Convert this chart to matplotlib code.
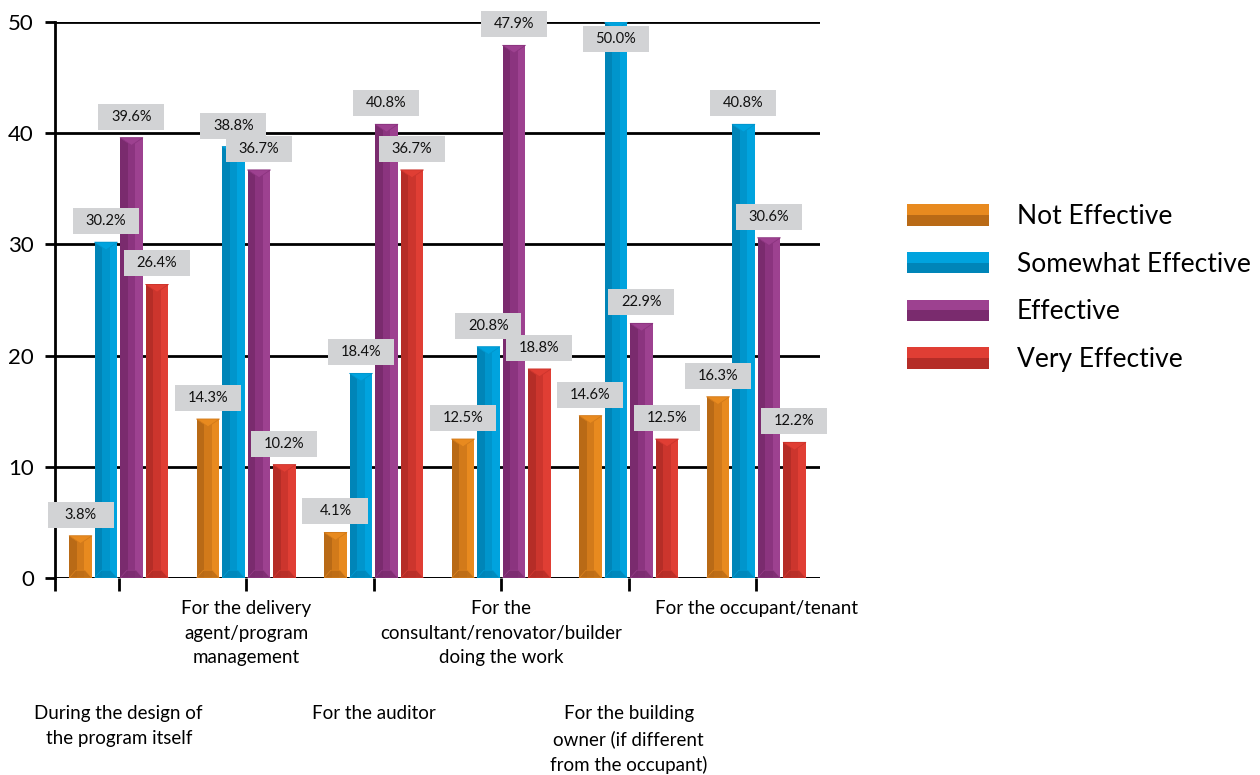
import matplotlib
matplotlib.use("Agg")
import matplotlib.pyplot as plt
import numpy as np
from matplotlib.patches import Polygon, Rectangle
from matplotlib.legend_handler import HandlerBase
from matplotlib import transforms

plt.rcParams["font.family"] = ["Lato", "DejaVu Sans"]

CATEGORIES = [
    "During the design of\nthe program itself",
    "For the delivery\nagent/program\nmanagement",
    "For the auditor",
    "For the\nconsultant/renovator/builder\ndoing the work",
    "For the building\nowner (if different\nfrom the occupant)",
    "For the occupant/tenant",
]
SERIES = ["Not Effective", "Somewhat Effective", "Effective", "Very Effective"]
NOT_EFFECTIVE = [3.8, 14.3, 4.1, 12.5, 14.6, 16.3]
SOMEWHAT_EFFECTIVE = [30.2, 38.8, 18.4, 20.8, 50.0, 40.8]
EFFECTIVE = [39.6, 36.7, 40.8, 47.9, 22.9, 30.6]
VERY_EFFECTIVE = [26.4, 10.2, 36.7, 18.8, 12.5, 12.2]
Y_TICKS = [0, 10, 20, 30, 40, 50]

# (dark, mid, light) shades per series for the bevel look
SHADES = [
    ("#b96a16", "#d27a1a", "#e88a1f"),
    ("#0085b8", "#0095cc", "#00a3de"),
    ("#7a2b6e", "#8b347f", "#9d4190"),
    ("#b52d27", "#cc352d", "#e03e34"),
]

values = [NOT_EFFECTIVE, SOMEWHAT_EFFECTIVE, EFFECTIVE, VERY_EFFECTIVE]
x = np.arange(len(CATEGORIES))
width = 0.18
offsets = [-0.3, -0.1, 0.1, 0.3]

fig = plt.figure(figsize=(12.6, 7.75), dpi=100)
ax = fig.add_axes([55 / 1260, 1 - 578 / 775, 765 / 1260, 556 / 775])
ax.set_xlim(-0.5, 5.5)
ax.set_ylim(0, 50)

for i, vals in enumerate(values):
    dark, mid, light = SHADES[i]
    pos = x + offsets[i]
    left = pos - width / 2
    ax.bar(left, vals, width=width / 3, align="edge", color=dark, zorder=3, linewidth=0)
    ax.bar(left + width / 3, vals, width=width / 3, align="edge", color=mid, zorder=3, linewidth=0)
    ax.bar(left + 2 * width / 3, vals, width=width / 3, align="edge", color=light, zorder=3, linewidth=0)
    d = 0.7
    for xl, v in zip(left, vals):
        top = Polygon([(xl, v), (xl + width, v), (xl + width / 2, v - d)],
                      closed=True, facecolor=light, edgecolor=mid, linewidth=0.6, zorder=4)
        bot = Polygon([(xl, 0), (xl + width, 0), (xl + 0.7 * width, d), (xl + 0.3 * width, d)],
                      closed=True, facecolor=dark, edgecolor=light, linewidth=0.5, alpha=0.8, zorder=4)
        ax.add_patch(top)
        ax.add_patch(bot)

# value labels in grey boxes (a label that would leave the plot sits inside the bar)
box_w, box_h = 66, 26
for i, vals in enumerate(values):
    pos = x + offsets[i]
    for xp, v in zip(pos, vals):
        dy = 21 if v < 48.5 else -17
        tr = transforms.ScaledTranslation(xp, v, ax.transData)
        rect = Rectangle((-box_w / 2, dy - box_h / 2), box_w, box_h,
                         transform=transforms.IdentityTransform() + tr,
                         facecolor="#d2d3d5", edgecolor="none", zorder=6, clip_on=False)
        ax.add_patch(rect)
        ax.annotate(f"{v:.1f}%", (xp, v), xytext=(0, dy), textcoords="offset pixels",
                    ha="center", va="center", fontsize=10.5, color="#111111", zorder=7)

# axes styling
for side in ["top", "right", "bottom"]:
    ax.spines[side].set_visible(False)
ax.spines["left"].set_linewidth(2)
ax.spines["left"].set_color("black")
ax.axhline(0, color="black", linewidth=2, zorder=2)
ax.set_yticks(Y_TICKS)
ax.set_yticklabels([str(t) for t in Y_TICKS], fontsize=16)
ax.tick_params(axis="y", length=7.2, width=2, direction="out", pad=8)
ax.grid(axis="y", color="black", linewidth=2, zorder=0)
ax.set_axisbelow(True)
ax.set_xticks([-0.5] + list(x))
ax.set_xticklabels([""] * 7)
ax.tick_params(axis="x", length=9.5, width=2, direction="out")

# staggered category labels
btr = transforms.blended_transform_factory(ax.transData, ax.transAxes)
for j, label in enumerate(CATEGORIES):
    yoff = -22 if j % 2 == 1 else -127
    ax.annotate(label, (j, 0), xycoords=btr, xytext=(0, yoff), textcoords="offset pixels",
                ha="center", va="top", fontsize=13.5, linespacing=1.55, annotation_clip=False)


class BevelHandler(HandlerBase):
    def __init__(self, shades):
        super().__init__()
        self.shades = shades

    def create_artists(self, legend, orig_handle, xdescent, ydescent, width, height, fontsize, trans):
        dark, mid, light = self.shades[orig_handle.get_label()]
        x0, y0 = -xdescent, -ydescent
        top = Rectangle((x0, y0 + height / 2), width, height / 2, facecolor=light,
                        edgecolor="none", transform=trans)
        bot = Rectangle((x0, y0), width, height / 2, facecolor=dark, edgecolor="none", transform=trans)
        return [top, bot]


handles = [Rectangle((0, 0), 1, 1, label=s) for s in SERIES]
shade_map = {s: SHADES[i] for i, s in enumerate(SERIES)}
fig.legend(handles, SERIES, loc="upper left", bbox_to_anchor=(907 / 1260, 1 - 204 / 775),
           frameon=False, fontsize=19, handlelength=3.1, handleheight=0.87,
           handletextpad=1.05, labelspacing=0.86, borderpad=0, borderaxespad=0,
           handler_map={h: BevelHandler(shade_map) for h in handles})

fig.savefig("out.png", dpi=100)
